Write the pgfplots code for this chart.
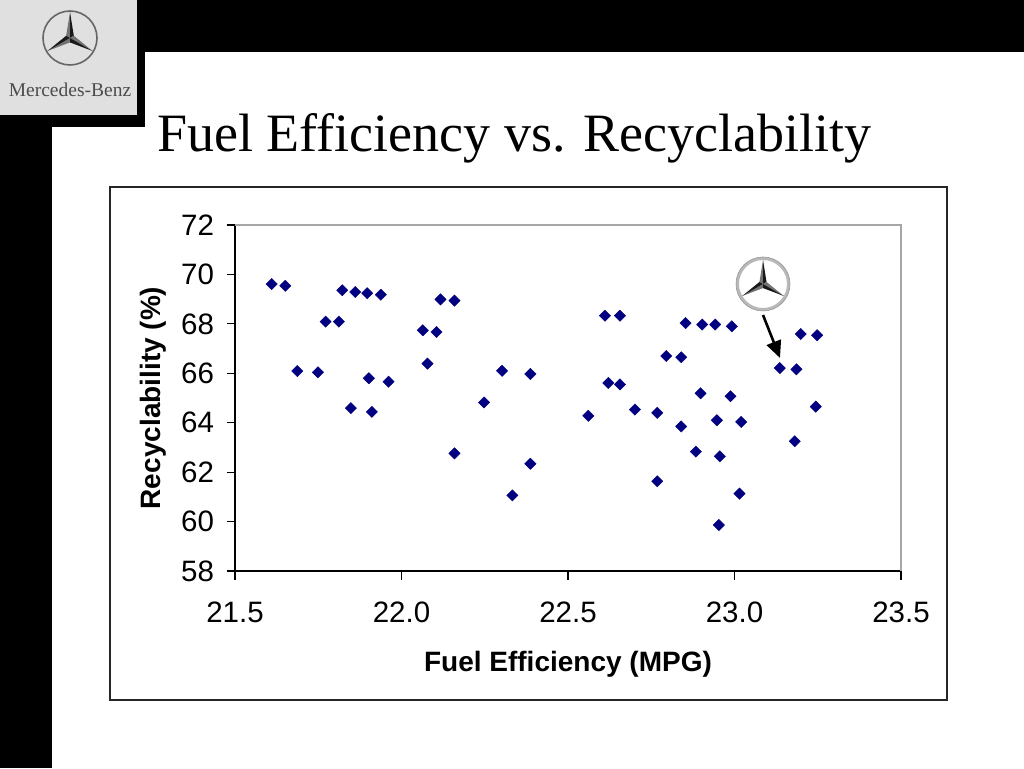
\documentclass[border=0pt]{standalone}
\usepackage{fontspec}
\setmainfont{Liberation Sans}
\newfontfamily\timesfont{Liberation Serif}
\usepackage{pgfplots}
\usepackage{pgfplotstable}
\pgfplotsset{compat=1.18}
\usetikzlibrary{arrows.meta}
\definecolor{navymk}{RGB}{0,0,128}
\definecolor{boxgray}{RGB}{224,224,224}

\pgfplotstableread{
x y
21.610 69.61
21.651 69.54
21.822 69.36
21.861 69.29
21.897 69.24
21.938 69.18
22.117 68.99
22.159 68.94
21.772 68.09
21.812 68.09
22.064 67.74
22.105 67.67
22.078 66.39
21.687 66.09
21.749 66.04
22.302 66.10
22.387 65.97
21.902 65.80
21.961 65.66
22.248 64.82
21.848 64.59
21.911 64.44
22.159 62.76
22.387 62.34
22.333 61.06
22.611 68.33
22.656 68.33
22.853 68.03
22.903 67.97
22.942 67.97
22.992 67.90
23.199 67.59
23.248 67.54
22.795 66.70
22.840 66.65
23.136 66.21
23.186 66.16
22.621 65.61
22.656 65.55
22.898 65.19
22.988 65.07
23.244 64.65
22.561 64.28
22.701 64.53
22.768 64.40
22.947 64.10
23.020 64.03
22.840 63.85
23.181 63.25
22.884 62.83
22.956 62.64
22.768 61.63
23.015 61.13
22.953 59.86
}\datatable

\newcommand{\mbstar}[4]{% x, y, radius, shade
  \begin{scope}[shift={(#1,#2)}]
    \foreach \a in {90,210,330}{
      \fill[#4!55] (0,0) -- (\a:#3) -- ({\a+60}:{0.17*#3}) -- cycle;
      \fill[#4!90] (0,0) -- (\a:#3) -- ({\a-60}:{0.17*#3}) -- cycle;
    }
  \end{scope}}

\begin{document}
\begin{tikzpicture}[x=1pt,y=1pt]
\useasboundingbox (0,0) rectangle (1024,768);
\fill[black] (0,0) rectangle (1024,768);
\fill[white] (52,0) rectangle (1024,641);
\fill[white] (145,641) rectangle (1024,716);
\fill[boxgray] (0,653) rectangle (137,768);
% corner logo
\draw[black!60, line width=1.6pt] (70,730) circle (27);
\mbstar{70}{730}{26}{black}
\node[anchor=base, font=\timesfont\fontsize{19.5}{22}\selectfont, text=black!70, inner sep=0pt] at (70,671) {Mercedes-Benz};
% title
\node[anchor=base west, inner sep=0pt, font=\timesfont\fontsize{54}{60}\selectfont] at (157,616) {Fuel Efficiency vs. Recyclability};
% chart frame
\draw[line width=1.3pt, black!85] (110,68) rectangle (947,581);

\begin{axis}[
  at={(235pt,197pt)}, anchor=south west, scale only axis,
  width=666pt, height=346pt,
  xmin=21.5, xmax=23.5, ymin=58, ymax=72,
  xtick={21.5,22,22.5,23,23.5}, xticklabels={21.5,22.0,22.5,23.0,23.5},
  ytick={58,60,62,64,66,68,70,72}, yticklabels={58,60,62,64,66,68,70,72},
  axis x line*=bottom, axis y line*=left,
  axis line style={-, line width=1.3pt, black},
  tick align=outside, major tick length=8.5pt,
  every tick/.style={black, line width=1.2pt},
  ticklabel style={font=\fontsize{29.5}{32}\selectfont},
  xticklabel style={yshift=-19pt},
  yticklabel style={xshift=-9pt},
  xlabel={Fuel Efficiency (MPG)}, ylabel={Recyclability (\%)},
  label style={font=\bfseries\fontsize{28}{32}\selectfont},
  xlabel style={at={(axis description cs:0.5,0)}, anchor=base, yshift=-100pt},
  ylabel style={at={(axis description cs:0,0.5)}, anchor=base, rotate=0, yshift=75pt},
  clip=false,
]
\draw[gray!70, line width=1.3pt] (rel axis cs:0,1) -- (rel axis cs:1,1) -- (rel axis cs:1,0);
\addplot[only marks, mark=square*, mark size=4pt, mark options={rotate=45, fill=navymk, draw=navymk}] table[x=x,y=y] {\datatable};
\end{axis}

% annotation logo and arrow
\fill[white] (763,484) circle (27);
\draw[gray!55, line width=3pt] (763,484) circle (25.5);
\draw[gray!80, line width=0.6pt] (763,484) circle (27);
\mbstar{763}{484}{24}{black}
\draw[line width=2.6pt, -{Triangle[length=17pt,width=15pt]}] (763,453) -- (780,410);
\end{tikzpicture}
\end{document}
